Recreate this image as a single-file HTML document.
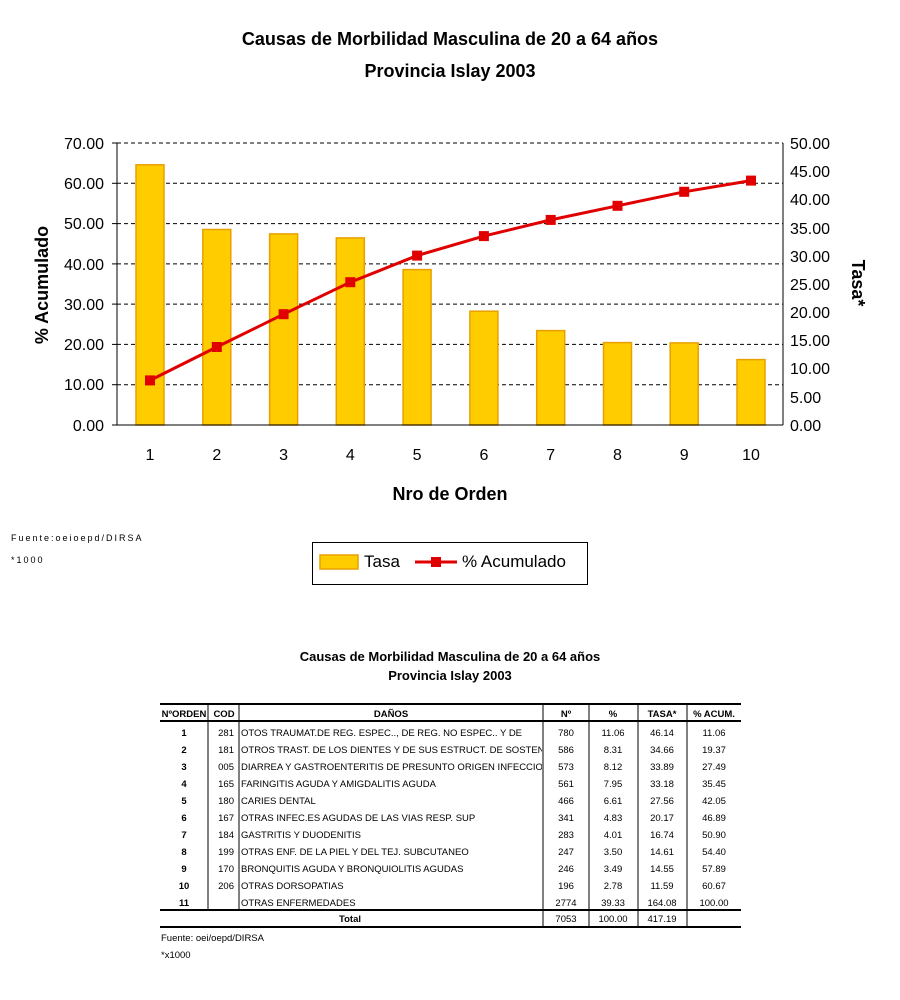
<!DOCTYPE html><html><head><meta charset="utf-8"><style>body{margin:0;background:#fff}svg{display:block}</style></head><body>
<svg width="900" height="1000" xmlns="http://www.w3.org/2000/svg" font-family="Liberation Sans, Arial, sans-serif">
<text x="450" y="45" text-anchor="middle" font-size="18" font-weight="bold">Causas de Morbilidad Masculina de 20 a 64 años</text>
<text x="450" y="77" text-anchor="middle" font-size="18" font-weight="bold">Provincia Islay 2003</text>
<g stroke="#000" stroke-dasharray="4,3" stroke-width="1">
<line x1="117" x2="783" y1="143" y2="143"/><line x1="117" x2="783" y1="183.3" y2="183.3"/><line x1="117" x2="783" y1="223.6" y2="223.6"/><line x1="117" x2="783" y1="263.9" y2="263.9"/><line x1="117" x2="783" y1="304.1" y2="304.1"/><line x1="117" x2="783" y1="344.4" y2="344.4"/><line x1="117" x2="783" y1="384.7" y2="384.7"/>
</g>
<g fill="#FFCC00" stroke="#E8A000" stroke-width="1.5">
<rect x="136" y="164.8" width="28" height="260.2"/><rect x="202.8" y="229.5" width="28" height="195.5"/><rect x="269.6" y="233.9" width="28" height="191.1"/><rect x="336.3" y="237.9" width="28" height="187.1"/><rect x="403.1" y="269.6" width="28" height="155.4"/><rect x="469.9" y="311.2" width="28" height="113.8"/><rect x="536.7" y="330.6" width="28" height="94.4"/><rect x="603.5" y="342.6" width="28" height="82.4"/><rect x="670.2" y="342.9" width="28" height="82.1"/><rect x="737" y="359.6" width="28" height="65.4"/>
</g>
<g stroke="#000" stroke-width="1">
<line x1="117" y1="143" x2="117" y2="425"/><line x1="783" y1="143" x2="783" y2="425"/><line x1="117" y1="425" x2="783" y2="425"/>
<line x1="112" x2="117" y1="143" y2="143"/><line x1="112" x2="117" y1="183.3" y2="183.3"/><line x1="112" x2="117" y1="223.6" y2="223.6"/><line x1="112" x2="117" y1="263.9" y2="263.9"/><line x1="112" x2="117" y1="304.1" y2="304.1"/><line x1="112" x2="117" y1="344.4" y2="344.4"/><line x1="112" x2="117" y1="384.7" y2="384.7"/><line x1="112" x2="117" y1="425" y2="425"/>
</g>
<polyline fill="none" stroke="#E00000" stroke-width="3" points="150,380.4 216.8,347 283.6,314.2 350.3,282.2 417.1,255.6 483.9,236.1 550.7,219.9 617.5,205.8 684.2,191.8 751,180.6"/>
<g fill="#E00000">
<rect x="145" y="375.4" width="10" height="10"/><rect x="211.8" y="342" width="10" height="10"/><rect x="278.6" y="309.2" width="10" height="10"/><rect x="345.3" y="277.2" width="10" height="10"/><rect x="412.1" y="250.6" width="10" height="10"/><rect x="478.9" y="231.1" width="10" height="10"/><rect x="545.7" y="214.9" width="10" height="10"/><rect x="612.5" y="200.8" width="10" height="10"/><rect x="679.2" y="186.8" width="10" height="10"/><rect x="746" y="175.6" width="10" height="10"/>
</g>
<g font-size="16" text-anchor="end">
<text x="104" y="149">70.00</text><text x="104" y="189">60.00</text><text x="104" y="229">50.00</text><text x="104" y="270">40.00</text><text x="104" y="310">30.00</text><text x="104" y="350">20.00</text><text x="104" y="390">10.00</text><text x="104" y="431">0.00</text>
</g>
<g font-size="16">
<text x="790" y="149">50.00</text><text x="790" y="177">45.00</text><text x="790" y="205">40.00</text><text x="790" y="234">35.00</text><text x="790" y="262">30.00</text><text x="790" y="290">25.00</text><text x="790" y="318">20.00</text><text x="790" y="346">15.00</text><text x="790" y="374">10.00</text><text x="790" y="403">5.00</text><text x="790" y="431">0.00</text>
</g>
<g font-size="16" text-anchor="middle">
<text x="150" y="460">1</text><text x="216.8" y="460">2</text><text x="283.6" y="460">3</text><text x="350.3" y="460">4</text><text x="417.1" y="460">5</text><text x="483.9" y="460">6</text><text x="550.7" y="460">7</text><text x="617.5" y="460">8</text><text x="684.2" y="460">9</text><text x="751" y="460">10</text>
</g>
<text x="450" y="500" text-anchor="middle" font-size="18" font-weight="bold">Nro de Orden</text>
<text transform="translate(48,285) rotate(-90)" text-anchor="middle" font-size="18" font-weight="bold">% Acumulado</text>
<text transform="translate(852,283) rotate(90)" text-anchor="middle" font-size="18" font-weight="bold">Tasa*</text>
<text x="11" y="541" font-size="9" letter-spacing="2">Fuente:oeioepd/DIRSA</text>
<text x="11" y="563" font-size="9" letter-spacing="2">*1000</text>
<rect x="312.5" y="542.5" width="275" height="42" fill="#fff" stroke="#000"/>
<rect x="320" y="555" width="38" height="14" fill="#FFCC00" stroke="#E8A000" stroke-width="1.5"/>
<text x="364" y="567" font-size="17">Tasa</text>
<line x1="415" x2="457" y1="562" y2="562" stroke="#E00000" stroke-width="3"/><rect x="431" y="557" width="10" height="10" fill="#E00000"/>
<text x="462" y="567" font-size="17">% Acumulado</text>
<text x="450" y="661" text-anchor="middle" font-size="13" font-weight="bold">Causas de Morbilidad Masculina de 20 a 64 años</text>
<text x="450" y="680" text-anchor="middle" font-size="13" font-weight="bold">Provincia Islay 2003</text>
<g stroke="#000">
<line x1="160" x2="741" y1="704" y2="704" stroke-width="2"/>
<line x1="160" x2="741" y1="721" y2="721" stroke-width="2"/>
<line x1="160" x2="741" y1="910" y2="910" stroke-width="2"/>
<line x1="160" x2="741" y1="927" y2="927" stroke-width="2"/>
<line x1="208" x2="208" y1="704" y2="910"/><line x1="239" x2="239" y1="704" y2="910"/>
<line x1="543" x2="543" y1="704" y2="927"/><line x1="589" x2="589" y1="704" y2="927"/><line x1="638" x2="638" y1="704" y2="927"/><line x1="687" x2="687" y1="704" y2="927"/>
</g>
<g font-size="9.5" font-weight="bold" text-anchor="middle">
<text x="184" y="717">NºORDEN</text><text x="224" y="717">COD</text><text x="391" y="717">DAÑOS</text><text x="566" y="717">Nº</text><text x="613" y="717">%</text><text x="662" y="717">TASA*</text><text x="714" y="717">% ACUM.</text>
<text x="184" y="736">1</text><text x="184" y="753">2</text><text x="184" y="770">3</text><text x="184" y="787">4</text><text x="184" y="804">5</text><text x="184" y="821">6</text><text x="184" y="838">7</text><text x="184" y="855">8</text><text x="184" y="872">9</text><text x="184" y="889">10</text><text x="184" y="906">11</text>
<text x="350" y="922">Total</text>
</g>
<g font-size="9.5" text-anchor="end">
<text x="234" y="736">281</text><text x="234" y="753">181</text><text x="234" y="770">005</text><text x="234" y="787">165</text><text x="234" y="804">180</text><text x="234" y="821">167</text><text x="234" y="838">184</text><text x="234" y="855">199</text><text x="234" y="872">170</text><text x="234" y="889">206</text>
</g>
<svg x="241" y="722" width="301" height="190"><g font-size="9.5">
<text x="0" y="14">OTOS TRAUMAT.DE REG. ESPEC.., DE REG. NO ESPEC.. Y DE</text>
<text x="0" y="31">OTROS TRAST. DE LOS DIENTES Y DE SUS ESTRUCT. DE SOSTEN</text>
<text x="0" y="48">DIARREA Y GASTROENTERITIS DE PRESUNTO ORIGEN INFECCIOSO</text>
<text x="0" y="65">FARINGITIS AGUDA Y AMIGDALITIS AGUDA</text>
<text x="0" y="82">CARIES DENTAL</text>
<text x="0" y="99">OTRAS INFEC.ES AGUDAS DE LAS VIAS RESP. SUP</text>
<text x="0" y="116">GASTRITIS Y DUODENITIS</text>
<text x="0" y="133">OTRAS ENF. DE LA PIEL Y DEL TEJ. SUBCUTANEO</text>
<text x="0" y="150">BRONQUITIS AGUDA Y BRONQUIOLITIS AGUDAS</text>
<text x="0" y="167">OTRAS DORSOPATIAS</text>
<text x="0" y="184">OTRAS ENFERMEDADES</text>
</g></svg>
<g font-size="9.5" text-anchor="middle">
<text x="566" y="736">780</text><text x="613" y="736">11.06</text><text x="662" y="736">46.14</text><text x="714" y="736">11.06</text>
<text x="566" y="753">586</text><text x="613" y="753">8.31</text><text x="662" y="753">34.66</text><text x="714" y="753">19.37</text>
<text x="566" y="770">573</text><text x="613" y="770">8.12</text><text x="662" y="770">33.89</text><text x="714" y="770">27.49</text>
<text x="566" y="787">561</text><text x="613" y="787">7.95</text><text x="662" y="787">33.18</text><text x="714" y="787">35.45</text>
<text x="566" y="804">466</text><text x="613" y="804">6.61</text><text x="662" y="804">27.56</text><text x="714" y="804">42.05</text>
<text x="566" y="821">341</text><text x="613" y="821">4.83</text><text x="662" y="821">20.17</text><text x="714" y="821">46.89</text>
<text x="566" y="838">283</text><text x="613" y="838">4.01</text><text x="662" y="838">16.74</text><text x="714" y="838">50.90</text>
<text x="566" y="855">247</text><text x="613" y="855">3.50</text><text x="662" y="855">14.61</text><text x="714" y="855">54.40</text>
<text x="566" y="872">246</text><text x="613" y="872">3.49</text><text x="662" y="872">14.55</text><text x="714" y="872">57.89</text>
<text x="566" y="889">196</text><text x="613" y="889">2.78</text><text x="662" y="889">11.59</text><text x="714" y="889">60.67</text>
<text x="566" y="906">2774</text><text x="613" y="906">39.33</text><text x="662" y="906">164.08</text><text x="714" y="906">100.00</text>
<text x="566" y="922">7053</text><text x="613" y="922">100.00</text><text x="662" y="922">417.19</text>
</g>
<text x="161" y="941" font-size="9.5">Fuente: oei/oepd/DIRSA</text>
<text x="161" y="958" font-size="9.5">*x1000</text>
</svg>
</body></html>
